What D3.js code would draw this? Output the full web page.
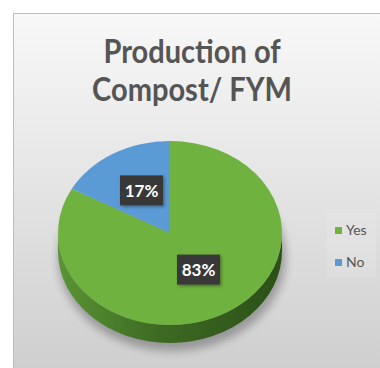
<!DOCTYPE html>
<html>
<head>
<meta charset="utf-8">
<script src="https://cdn.jsdelivr.net/npm/d3@7"></script>
<style>
  html, body { margin: 0; padding: 0; background: #ffffff; }
  svg { display: block; }
</style>
</head>
<body>
<svg id="chart" width="380" height="368"></svg>
<script>
// Survey answers and their shares (%)
const categories = ["Yes", "No"];
const values = [83, 17];
const titleLines = ["Production of", "Compost/ FYM"];

const topColors = ["#6fb240", "#5b9bd5"];

const svg = d3.select("#chart");
const defs = svg.append("defs");

// panel background gradient
const bg = defs.append("linearGradient").attr("id", "bg")
  .attr("x1", 0).attr("y1", 0).attr("x2", 0).attr("y2", 1);
bg.append("stop").attr("offset", "0%").attr("stop-color", "#f8f8f8");
bg.append("stop").attr("offset", "45%").attr("stop-color", "#e5e5e5");
bg.append("stop").attr("offset", "100%").attr("stop-color", "#cdcdcd");

// side wall of the pie: lighter on the left, dark on the right
const side = defs.append("linearGradient").attr("id", "side")
  .attr("x1", 0).attr("y1", 0).attr("x2", 1).attr("y2", 0);
side.append("stop").attr("offset", "0%").attr("stop-color", "#5a9534");
side.append("stop").attr("offset", "45%").attr("stop-color", "#3d6a23");
side.append("stop").attr("offset", "100%").attr("stop-color", "#2b5017");

const blur = defs.append("filter").attr("id", "soft")
  .attr("x", "-20%").attr("y", "-20%").attr("width", "140%").attr("height", "140%");
blur.append("feGaussianBlur").attr("stdDeviation", 4);

const boxShadow = defs.append("filter").attr("id", "boxShadow")
  .attr("x", "-30%").attr("y", "-30%").attr("width", "160%").attr("height", "160%");
boxShadow.append("feDropShadow").attr("dx", 1.5).attr("dy", 1.5)
  .attr("stdDeviation", 1.5).attr("flood-color", "#000").attr("flood-opacity", 0.35);

// panel
svg.append("rect")
  .attr("x", 13.5).attr("y", 13.5).attr("width", 380).attr("height", 370)
  .attr("fill", "url(#bg)").attr("stroke", "#bdbdbd").attr("stroke-width", 1);

// title, slightly condensed
const titleX = 192;
const title = svg.append("g")
  .attr("transform", `translate(${titleX},0) scale(0.88,1)`)
  .attr("font-family", "Lato, 'Open Sans', sans-serif")
  .attr("font-weight", 700).attr("fill", "#555555").attr("text-anchor", "middle");
title.selectAll("text").data(titleLines).join("text")
  .attr("x", 0)
  .attr("y", (d, i) => 63 + i * 38)
  .attr("font-size", 33)
  .text(d => d);

// pie geometry
const cx = 170, cy = 233, rx = 112, ry = 92, depth = 18;
const k = ry / rx;

const pie = d3.pie().sort(null).value(d => d)(values);
const arc = d3.arc().innerRadius(0).outerRadius(rx);

// soft shadow under the pie
svg.append("ellipse")
  .attr("cx", cx + 2).attr("cy", cy + depth + 6)
  .attr("rx", rx + 2).attr("ry", ry + 2)
  .attr("fill", "#000").attr("opacity", 0.28)
  .attr("filter", "url(#soft)");

const g = svg.append("g").attr("transform", `translate(${cx},${cy}) scale(1,${k})`);

// front wall (the lower half of the rim, all of it on the "Yes" slice)
const wall = d3.path();
const d = depth / k;
wall.moveTo(rx, 0);
wall.arc(0, 0, rx, 0, Math.PI, false);
wall.lineTo(-rx, d);
wall.arc(0, d, rx, Math.PI, 0, true);
wall.closePath();
g.append("path").attr("d", wall.toString()).attr("fill", "url(#side)");

// top face
g.selectAll("path.slice").data(pie).join("path")
  .attr("class", "slice")
  .attr("d", arc)
  .attr("fill", (p, i) => topColors[i]);

// value labels in dark boxes at slice centroids
const labels = svg.append("g").attr("font-family", "Lato, 'Open Sans', sans-serif")
  .attr("font-weight", 700).attr("font-size", 17);
pie.forEach((p, i) => {
  const [x, y] = arc.centroid(p);
  const lx = cx + x, ly = cy + y * k - 3;
  const lg = labels.append("g").attr("transform", `translate(${lx},${ly})`);
  lg.append("rect").attr("x", -21.5).attr("y", -15).attr("width", 43).attr("height", 30)
    .attr("fill", "#393939").attr("filter", "url(#boxShadow)");
  lg.append("text").attr("text-anchor", "middle").attr("dy", "0.36em")
    .attr("fill", "#ffffff").text(values[i] + "%");
});

// legend
const legend = svg.append("g").attr("transform", "translate(327,213)");
legend.append("rect").attr("width", 49).attr("height", 65)
  .attr("fill", "#ffffff").attr("opacity", 0.12);
const items = legend.selectAll("g.item").data(categories).join("g")
  .attr("class", "item")
  .attr("transform", (c, i) => `translate(8,${14 + i * 32})`);
items.append("rect").attr("width", 7).attr("height", 7).attr("fill", (c, i) => topColors[i]);
items.append("text").attr("x", 11).attr("y", 8)
  .attr("font-family", "Lato, 'Open Sans', sans-serif").attr("font-size", 14)
  .attr("fill", "#555555").text(c => c);
</script>
</body>
</html>
